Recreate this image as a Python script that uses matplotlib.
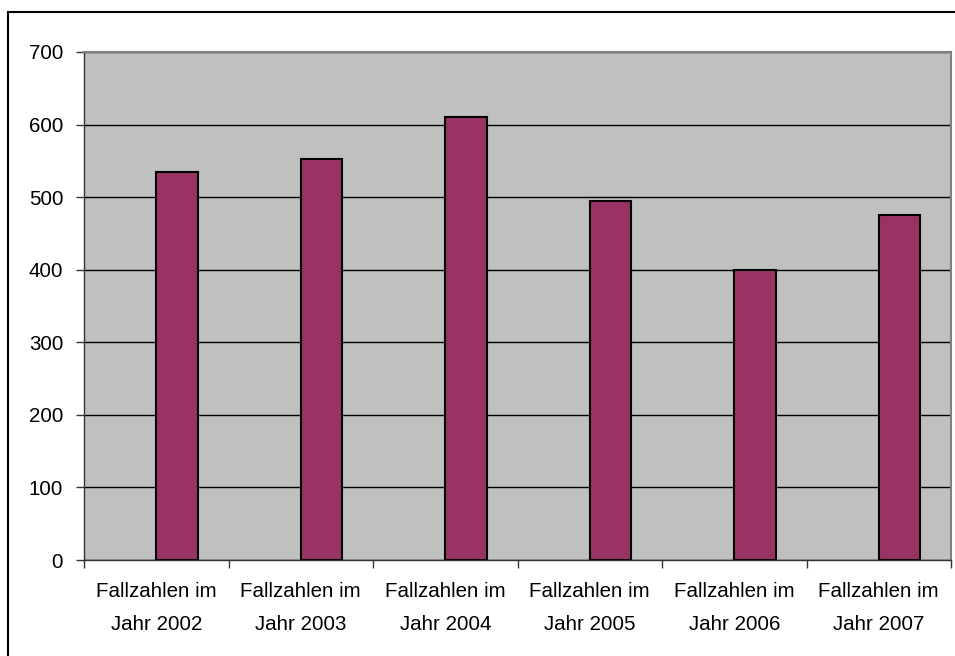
import numpy as np
import matplotlib
matplotlib.use("Agg")
import matplotlib.pyplot as plt
from matplotlib.patches import Rectangle

plt.rcParams['font.family'] = ['Liberation Sans', 'DejaVu Sans']

# Data
years = ['2002', '2003', '2004', '2005', '2006', '2007']
values = [534, 553, 611, 495, 399, 476]
labels = ['Fallzahlen im\nJahr ' + y for y in years]

fig = plt.figure(figsize=(9.55, 6.56), dpi=100)

# outer chart border (runs off the right and bottom edges like the reference)
fig.patches.append(Rectangle((7.5 / 955, -0.05), 1.2, 1 - 12.5 / 656 + 0.05,
                             transform=fig.transFigure, fill=False,
                             edgecolor='black', linewidth=1.5))

ax = fig.add_axes([84 / 955, 1 - 560 / 656, (951 - 84) / 955, (560 - 52) / 656])
ax.set_facecolor('#C0C0C0')

# bars sit right of category centre (empty first series in the original)
x = np.arange(len(values)) + 0.5
ax.bar(x, values, width=1 / 3.5, align='edge', color='#993366',
       edgecolor='black', linewidth=1.5, zorder=3)

ax.set_xlim(0, len(values))
ax.set_ylim(0, 700)
ax.set_yticks(np.arange(0, 701, 100))
ax.yaxis.grid(True, color='black', linewidth=1)
ax.set_axisbelow(True)

ax.set_xticks(x)
ax.set_xticklabels(labels, linespacing=1.9)
ax.set_xticks(np.arange(0, len(values) + 1), minor=True)
ax.tick_params(axis='x', which='major', length=0, pad=16, labelsize=14.8)
ax.tick_params(axis='x', which='minor', length=6, width=1, color='#333333')
ax.tick_params(axis='y', length=6, width=1, color='#333333', pad=9, labelsize=14.8)

for s in ['top', 'right']:
    ax.spines[s].set_color('#808080')
    ax.spines[s].set_linewidth(1.5)
for s in ['left', 'bottom']:
    ax.spines[s].set_color('#333333')
    ax.spines[s].set_linewidth(1)

fig.savefig('out.png', dpi=100)
